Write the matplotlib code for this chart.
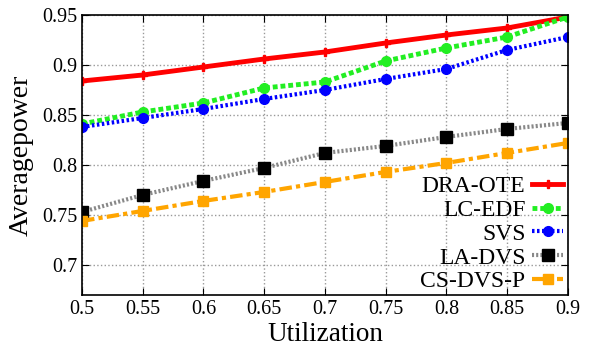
import matplotlib
matplotlib.use("Agg")
import matplotlib.pyplot as plt

plt.rcParams['font.family'] = ['Liberation Serif', 'DejaVu Serif']

util = [0.5, 0.55, 0.6, 0.65, 0.7, 0.75, 0.8, 0.85, 0.9]
dra_ote = [0.884, 0.890, 0.898, 0.906, 0.913, 0.922, 0.930, 0.937, 0.948]
lc_edf = [0.841, 0.853, 0.862, 0.877, 0.883, 0.904, 0.917, 0.928, 0.948]
svs = [0.838, 0.847, 0.856, 0.866, 0.875, 0.886, 0.896, 0.915, 0.928]
la_dvs = [0.753, 0.770, 0.784, 0.797, 0.812, 0.819, 0.828, 0.836, 0.842]
cs_dvs_p = [0.744, 0.754, 0.764, 0.773, 0.783, 0.793, 0.802, 0.812, 0.822]

fig = plt.figure(figsize=(5.97, 3.49), dpi=100)
ax = fig.add_axes([0.1374, 0.155, 0.8136, 0.802])

ax.plot(util, dra_ote, color='red', lw=3.5, ls='-', marker='P', ms=6, label='DRA-OTE')
ax.plot(util, lc_edf, color='#22ee22', lw=3.5, ls=(0, (1, 0.6)), marker='o', ms=7, label='LC-EDF')
ax.plot(util, svs, color='#0000ff', lw=3, ls=(0, (0.6, 0.6)), marker='o', ms=7, label='SVS')
ax.plot(util, la_dvs, color='#888888', lw=3, ls=(0, (0.5, 0.5)), marker='s', ms=8,
        mfc='black', mec='black', label='LA-DVS')
ax.plot(util, cs_dvs_p, color='orange', lw=3, ls=(0, (3, 1, 1, 1)), marker='s', ms=7,
        mfc='orange', mec='orange', label='CS-DVS-P')

ax.set_xlim(0.5, 0.9)
ax.set_ylim(0.67, 0.95)
ax.set_xticks(util)
ax.set_xticklabels(['0.5', '0.55', '0.6', '0.65', '0.7', '0.75', '0.8', '0.85', '0.9'])
ax.set_yticks([0.7, 0.75, 0.8, 0.85, 0.9, 0.95])
ax.set_yticklabels(['0.7', '0.75', '0.8', '0.85', '0.9', '0.95'])
ax.tick_params(direction='in', top=True, right=True, labelsize=14.5, length=5)
ax.grid(True, color='#999999', ls=':', lw=1)
for s in ax.spines.values():
    s.set_linewidth(1.2)

ax.set_xlabel('Utilization', fontsize=19.5, labelpad=2)
ax.set_ylabel('Averagepower', fontsize=20, labelpad=6)

ax.legend(loc='lower right', frameon=False, markerfirst=False, fontsize=17,
          handlelength=1.3, labelspacing=0.1, borderaxespad=0, handletextpad=0.3,
          bbox_to_anchor=(1.01, -0.025))

fig.savefig('out.png', dpi=100)
